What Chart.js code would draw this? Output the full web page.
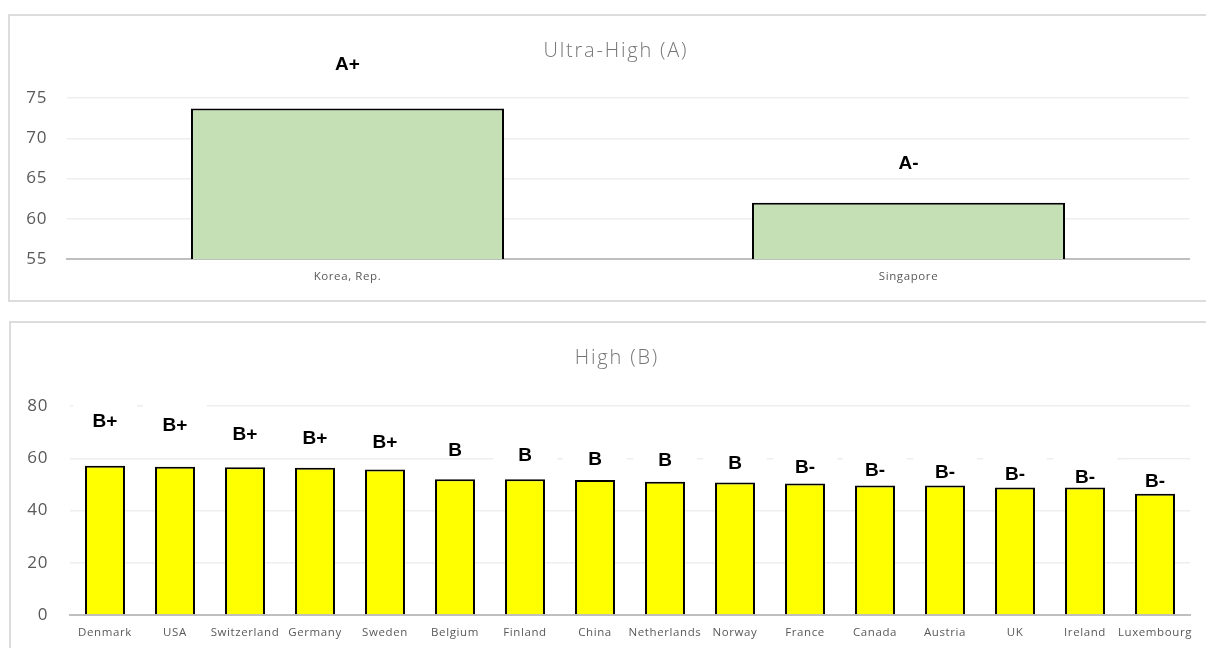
<!DOCTYPE html>
<html>
<head>
<meta charset="utf-8">
<script src="https://cdn.jsdelivr.net/npm/chart.js@4.4.0/dist/chart.umd.min.js"></script>
<style>
html,body{margin:0;padding:0;background:#fff;overflow:hidden;width:1206px;height:648px;}
.box{position:absolute;border:2px solid #dcdcdc;box-sizing:content-box;background:#fff;}
#boxA{left:8px;top:14px;width:1210px;height:284px;}
#boxB{left:9px;top:321px;width:1210px;height:340px;}
canvas{display:block;}
</style>
</head>
<body>
<div class="box" id="boxA"><canvas id="chartA" width="1210" height="284"></canvas></div>
<div class="box" id="boxB"><canvas id="chartB" width="1210" height="330"></canvas></div>
<script>
// ---- Data ----
const titleA = 'Ultra-High (A)';
const categoriesA = ['Korea, Rep.', 'Singapore'];
const scoresA = [73.7, 62.0];
const gradesA = ['A+', 'A-'];
const gradeLevelsA = [79.1, 66.8];
const yTicksA = [55, 60, 65, 70, 75];

const titleB = 'High (B)';
const categoriesB = ['Denmark', 'USA', 'Switzerland', 'Germany', 'Sweden', 'Belgium', 'Finland', 'China',
  'Netherlands', 'Norway', 'France', 'Canada', 'Austria', 'UK', 'Ireland', 'Luxembourg'];
const scoresB = [57.1, 56.7, 56.6, 56.4, 55.7, 52.0, 52.0, 51.7, 51.0, 50.7, 50.3, 49.6, 49.6, 48.8, 48.8, 46.4];
const gradesB = ['B+', 'B+', 'B+', 'B+', 'B+', 'B', 'B', 'B', 'B', 'B', 'B-', 'B-', 'B-', 'B-', 'B-', 'B-'];
const gradeLevelsB = [74.1, 72.5, 68.9, 67.5, 65.9, 62.7, 61.0, 59.5, 59.1, 57.9, 56.2, 55.2, 54.3, 53.8, 52.5, 51.1];
const yTicksB = [0, 20, 40, 60, 80];

// ---- Plugins ----
const spacingPlugin = {
  id: 'spacing',
  beforeDraw(chart) { chart.ctx.letterSpacing = '0.6px'; }
};
const titlePlugin = {
  id: 'boxTitle',
  afterDraw(chart, args, opts) {
    const ctx = chart.ctx;
    ctx.save();
    ctx.letterSpacing = '1.8px';
    ctx.font = '300 20px "Open Sans", sans-serif';
    ctx.fillStyle = '#757575';
    ctx.textAlign = 'center';
    ctx.textBaseline = 'middle';
    ctx.fillText(opts.text, chart.width / 2 + 0.9, opts.y);
    ctx.restore();
  }
};
const gradePlugin = {
  id: 'grades',
  afterDatasetsDraw(chart, args, opts) {
    const ctx = chart.ctx;
    const meta = chart.getDatasetMeta(0);
    const ys = chart.scales.y;
    ctx.save();
    ctx.letterSpacing = '0px';
    ctx.font = 'bold 19px "Liberation Sans", Arial, sans-serif';
    ctx.textAlign = 'center';
    ctx.textBaseline = 'middle';
    opts.grades.forEach((g, i) => {
      const x = meta.data[i].x;
      const y = ys.getPixelForValue(opts.levels[i]);
      ctx.fillStyle = '#ffffff';
      ctx.fillRect(x - opts.boxW / 2, y - 22, opts.boxW, 27);
      ctx.fillStyle = '#000000';
      ctx.fillText(g, x, y);
    });
    ctx.restore();
  }
};

function makeChart(id, title, cats, vals, grades, levels, yTicks, opt) {
  const yMin = yTicks[0], yMax = yTicks[yTicks.length - 1];
  const step = yTicks[1] - yTicks[0];
  return new Chart(document.getElementById(id), {
    type: 'bar',
    data: {
      labels: cats,
      datasets: [{
        data: vals,
        backgroundColor: opt.fill,
        borderColor: '#000000',
        borderWidth: 2,
        barPercentage: opt.barPct,
        categoryPercentage: 1
      }]
    },
    options: {
      responsive: false,
      devicePixelRatio: 1,
      animation: false,
      layout: { padding: { left: 0, right: 31, top: opt.top, bottom: 0 } },
      plugins: {
        legend: { display: false },
        title: { display: false },
        tooltip: { enabled: false },
        boxTitle: { text: title, y: 35 },
        grades: { grades: grades, levels: levels, boxW: opt.boxW }
      },
      scales: {
        x: {
          grid: { display: false, drawTicks: false },
          border: { display: true, color: '#bfbfbf', width: 2 },
          ticks: {
            font: { family: '"Open Sans", sans-serif', size: 11.5 },
            color: '#595959', padding: 11, autoSkip: false, maxRotation: 0, minRotation: 0
          },
          afterFit(s) { s.height = opt.xh; }
        },
        y: {
          min: yMin, max: yMax,
          ticks: {
            stepSize: step,
            font: { family: '"Open Sans", sans-serif', size: 17 },
            color: '#595959', padding: opt.tickPad
          },
          grid: {
            drawTicks: false, lineWidth: 1.5,
            color: c => (c.tick && c.tick.value === yMin) ? 'rgba(0,0,0,0)' : '#eeeeee'
          },
          border: { display: false },
          afterFit(s) { s.width = opt.yw; }
        }
      }
    },
    plugins: [spacingPlugin, titlePlugin, gradePlugin]
  });
}

makeChart('chartA', titleA, categoriesA, scoresA, gradesA, gradeLevelsA, yTicksA,
  { fill: '#c5e0b4', barPct: 0.558, top: 82, xh: 41, yw: 57, tickPad: 20, boxW: 80 });
makeChart('chartB', titleB, categoriesB, scoresB, gradesB, gradeLevelsB, yTicksB,
  { fill: '#ffff00', barPct: 0.571, top: 83, xh: 38, yw: 59, tickPad: 22, boxW: 64 });
</script>
</body>
</html>
